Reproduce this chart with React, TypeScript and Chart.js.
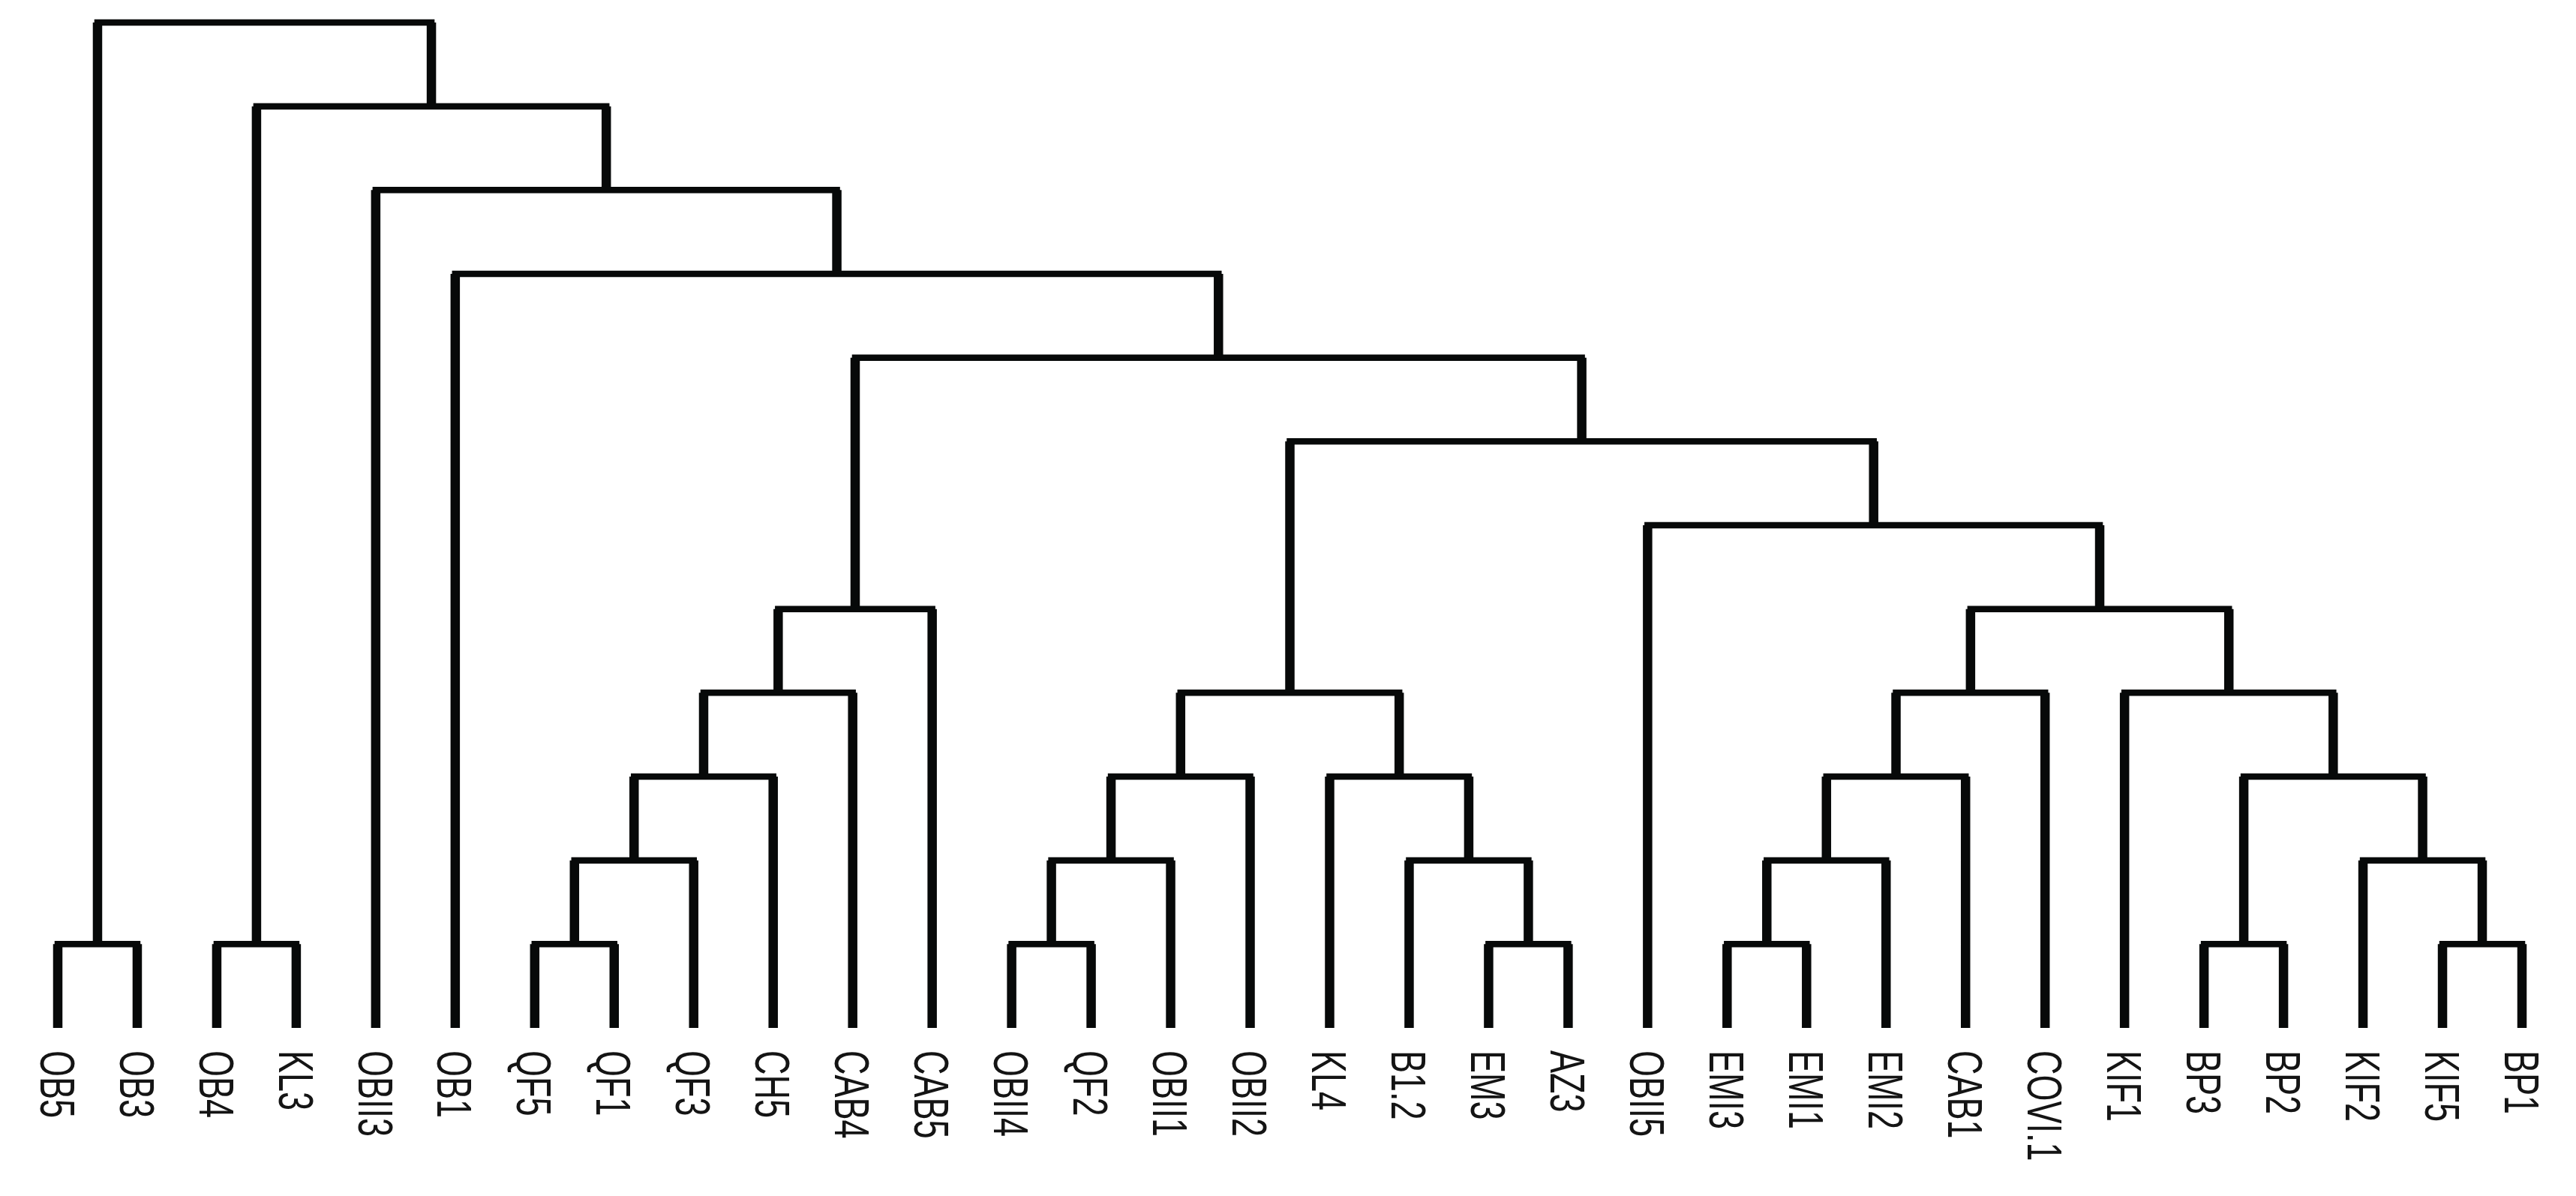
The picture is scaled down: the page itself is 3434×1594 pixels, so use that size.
import React, { useEffect, useRef } from 'react';
import { Chart, registerables } from 'chart.js';

Chart.register(...registerables);

// Leaf labels in dendrogram order (left to right)
const leafLabels = [
  'OB5', 'OB3', 'OB4', 'KL3', 'OBII3', 'OB1', 'QF5', 'QF1', 'QF3', 'CH5', 'CAB4', 'CAB5',
  'OBII4', 'QF2', 'OBII1', 'OBII2', 'KL4', 'B1.2', 'EM3', 'AZ3', 'OBII5', 'EMI3', 'EMI1',
  'EMI2', 'CAB1', 'COVI.1', 'KIF1', 'BP3', 'BP2', 'KIF2', 'KIF5', 'BP1',
];

// hclust-style merge table: negative = leaf (1-based), positive = earlier merge (1-based)
const mergeLeft = [
  -1, -3, -7, -13, -19, -22, -28, -31,
  3, 4, -18, 6, -30,
  9, 10, -17, 12, 7,
  14, 15, 17, -27,
  19, 21, -21, 20, 23, -6, -5, 2, 1,
];
const mergeRight = [
  -2, -4, -8, -14, -20, -23, -29, -32,
  -9, -15, 5, -24, 8,
  -10, -16, 11, -25, 13,
  -11, 16, -26, 18,
  -12, 22, 24, 25, 26, 27, 28, 29, 30,
];
const mergeHeights = [
  1, 1, 1, 1, 1, 1, 1, 1,
  2, 2, 2, 2, 2,
  3, 3, 3, 3, 3,
  4, 4, 4, 4,
  5, 5, 6, 7, 8, 9, 10, 11, 12,
];

const LINE_COLOR = '#070909';
const TEXT_COLOR = '#141414';

type Pt = { x: number; y: number | null };

function nodePoint(ref: number): { x: number; y: number } {
  if (ref < 0) return { x: -ref - 1, y: 0 };
  const k = ref - 1;
  const a = nodePoint(mergeLeft[k]);
  const b = nodePoint(mergeRight[k]);
  return { x: (a.x + b.x) / 2, y: mergeHeights[k] };
}

function buildSegments() {
  const links: Pt[] = [];
  const stems: Pt[] = [];
  for (let k = 0; k < mergeHeights.length; k++) {
    const a = nodePoint(mergeLeft[k]);
    const b = nodePoint(mergeRight[k]);
    const h = mergeHeights[k];
    links.push({ x: a.x, y: a.y }, { x: a.x, y: h }, { x: b.x, y: h }, { x: b.x, y: b.y }, { x: b.x, y: null });
    stems.push(
      { x: a.x, y: a.y }, { x: a.x, y: h }, { x: a.x, y: null },
      { x: b.x, y: b.y }, { x: b.x, y: h }, { x: b.x, y: null },
    );
  }
  return { links, stems };
}

const leafLabelPlugin = {
  id: 'leafLabels',
  afterDatasetsDraw(chart: any) {
    const { ctx, scales } = chart;
    const fontSize = 45;
    const capH = fontSize * 0.716;
    ctx.save();
    ctx.fillStyle = TEXT_COLOR;
    ctx.font = `${fontSize}px "Liberation Sans", Arial, sans-serif`;
    ctx.textAlign = 'left';
    ctx.textBaseline = 'alphabetic';
    const yBase = scales.y.getPixelForValue(0) + 30;
    leafLabels.forEach((lab, i) => {
      const x = scales.x.getPixelForValue(i);
      ctx.save();
      ctx.translate(x, yBase);
      ctx.rotate(Math.PI / 2);
      ctx.scale(1, 1.45);
      ctx.fillText(lab, 0, capH / 2);
      ctx.restore();
    });
    ctx.restore();
  },
};

export default function App() {
  const ref = useRef<HTMLCanvasElement | null>(null);

  useEffect(() => {
    if (!ref.current) return;
    const { links, stems } = buildSegments();
    const chart = new Chart(ref.current, {
      type: 'line',
      data: {
        datasets: [
          {
            data: links as any,
            borderColor: LINE_COLOR,
            borderWidth: 8.5,
            borderJoinStyle: 'miter',
            borderCapStyle: 'butt',
            pointRadius: 0,
            tension: 0,
            fill: false,
            spanGaps: false,
            clip: false as any,
          },
          {
            data: stems as any,
            borderColor: LINE_COLOR,
            borderWidth: 12.5,
            borderCapStyle: 'butt',
            pointRadius: 0,
            tension: 0,
            fill: false,
            spanGaps: false,
            clip: false as any,
          },
        ],
      },
      options: {
        animation: false,
        responsive: false,
        devicePixelRatio: 1,
        events: [],
        layout: { padding: { left: 69, right: 64, top: 22, bottom: 216 } },
        plugins: { legend: { display: false }, tooltip: { enabled: false } },
        scales: {
          x: { type: 'linear', min: 0, max: leafLabels.length - 1, display: false },
          y: { type: 'linear', min: 0, max: 12, display: false },
        },
      },
      plugins: [leafLabelPlugin],
    });
    return () => chart.destroy();
  }, []);

  return (
    <div style={{ width: 3418, height: 1578, background: '#fff' }}>
      <canvas ref={ref} width={3418} height={1578} style={{ width: 3418, height: 1578, display: 'block' }} />
    </div>
  );
}
